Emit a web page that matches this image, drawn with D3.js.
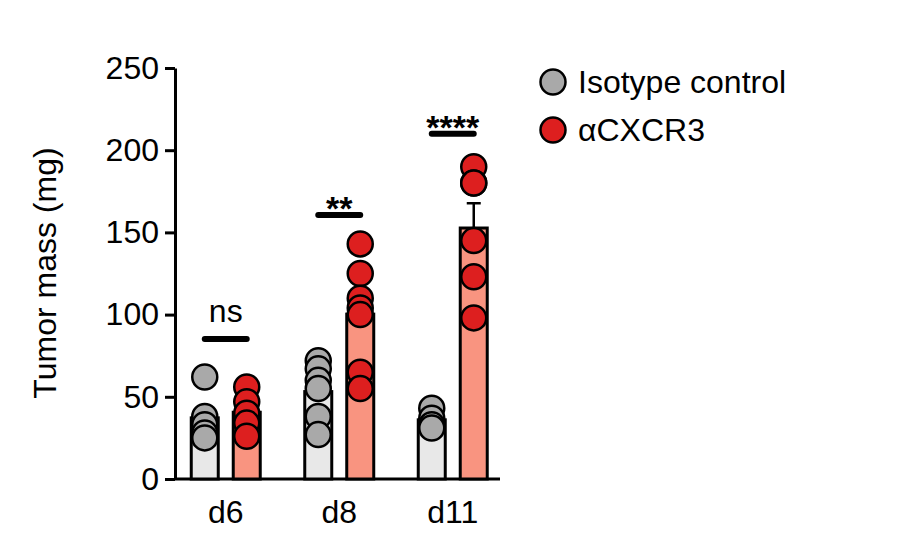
<!DOCTYPE html><html><head><meta charset="utf-8"><script src="https://cdn.jsdelivr.net/npm/d3@7"></script>
<style>body{margin:0;background:#fff}text{font-family:"Liberation Sans",Arial,sans-serif}</style></head><body><svg id="c" width="922" height="541"></svg><script>
const days=["d6","d8","d11"];
const isotype=[[62,38,33,28,25],[72,67,60,55,38,27],[43,37,33,31]];
const cxcr3=[[56,47,40,34,26],[143,125,110,104,100,65,55],[190,180,180,145,123,98]];
const sig=["ns","**","****"];
const yTicks=[0,50,100,150,200,250];
const svg=d3.select("#c");
const y=d3.scaleLinear().domain([0,250]).range([479,68]);
const x=d3.scaleBand().domain(days).range([169,509.5]).paddingInner(0);
const sub=d3.scaleBand().domain([0,1]).range([0,x.bandwidth()]).paddingInner(0.357).paddingOuter(0.53);
const fills=[{bar:"#e8e8e8",dot:"#a9a9a9"},{bar:"#f99480",dot:"#dd1f1f"}];
const g=svg.append("g");
const ya=g.append("g").attr("transform","translate(175,0)").call(d3.axisLeft(y).tickValues(yTicks).tickSize(10).tickSizeOuter(0).tickPadding(6));
ya.select(".domain").attr("stroke-width",3);ya.selectAll(".tick line").attr("stroke-width",3);
ya.selectAll("text").attr("font-size",32).attr("fill","#000");
g.append("line").attr("x1",175).attr("x2",500).attr("y1",479).attr("y2",479).attr("stroke","#000").attr("stroke-width",3);
svg.append("text").attr("transform","translate(56,273) rotate(-90)").attr("text-anchor","middle").attr("font-size",32).text("Tumor mass (mg)");
const sem=a=>{const m=d3.mean(a);return Math.sqrt(d3.sum(a,v=>(v-m)**2)/(a.length-1))/Math.sqrt(a.length);};
const offs=[38,29,33];
days.forEach((d,i)=>{
 [isotype[i],cxcr3[i]].forEach((vals,k)=>{
  const bx=x(d)+sub(k),bw=sub.bandwidth(),m=d3.mean(vals),cx=bx+bw/2;
  g.append("line").attr("x1",cx).attr("x2",cx).attr("y1",y(m)).attr("y2",y(m+sem(vals))).attr("stroke","#000").attr("stroke-width",2.5);
  g.append("line").attr("x1",cx-7).attr("x2",cx+7).attr("y1",y(m+sem(vals))).attr("y2",y(m+sem(vals))).attr("stroke","#000").attr("stroke-width",2.5);
  g.append("rect").attr("x",bx).attr("y",y(m)).attr("width",bw).attr("height",y(0)-y(m)).attr("fill",fills[k].bar).attr("stroke","#000").attr("stroke-width",3);
  vals.forEach(v=>g.append("circle").attr("cx",cx).attr("cy",y(v)).attr("r",12.5).attr("fill",fills[k].dot).attr("stroke","#000").attr("stroke-width",2.5));
 });
 const x1=x(d)+sub(0)+sub.bandwidth()/2,x2=x(d)+sub(1)+sub.bandwidth()/2;
 const top=d3.max([...isotype[i],...cxcr3[i]]);
 const by=y(top)-offs[i];
 g.append("line").attr("x1",x1).attr("x2",x2).attr("y1",by).attr("y2",by).attr("stroke","#000").attr("stroke-width",6).attr("stroke-linecap","round");
 g.append("text").attr("x",(x1+x2)/2).attr("y",i==0?by-17:by+5).attr("text-anchor","middle").attr("font-size",i==0?32:34).attr("font-weight",i==0?"normal":"bold").text(sig[i]);
 g.append("text").attr("x",(x1+x2)/2).attr("y",523).attr("text-anchor","middle").attr("font-size",32).text(d);
});
const leg=[["Isotype control",0],["αCXCR3",1]];
leg.forEach(([t,k],j)=>{
 svg.append("circle").attr("cx",553).attr("cy",82+j*48).attr("r",12.5).attr("fill",fills[k].dot).attr("stroke","#000").attr("stroke-width",2.5);
 svg.append("text").attr("x",578).attr("y",93+j*48).attr("font-size",32).text(t);
});
</script></body></html>
